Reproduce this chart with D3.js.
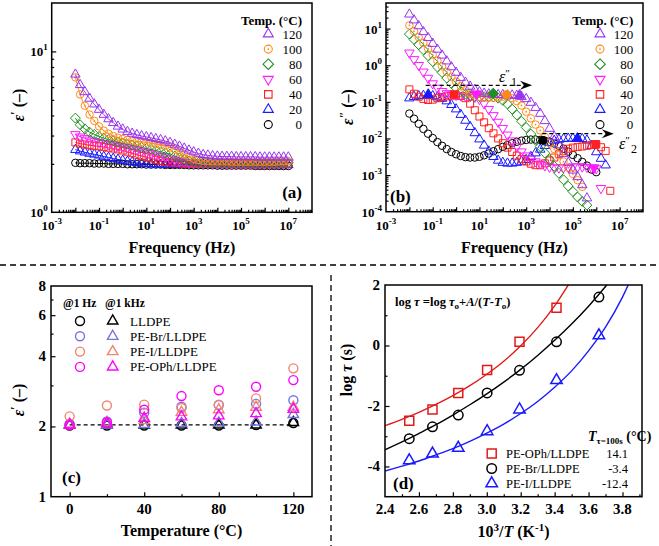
<!DOCTYPE html>
<html><head><meta charset="utf-8">
<script src="https://cdn.jsdelivr.net/npm/d3@7"></script>
<style>body{margin:0;background:#fff}svg{display:block}text{font-family:"Liberation Serif","Times New Roman",serif;fill:#000}</style>
</head><body><svg id="c" width="659" height="546"></svg>
<script>
// ---------------- DATA ----------------
// log10 frequency (Hz) of the measured points
const logF = [-2,-1.8,-1.6,-1.4,-1.2,-1,-0.8,-0.6,-0.4,-0.2,0,0.2,0.4,0.6,0.8,1,1.2,1.4,1.6,1.8,2,2.2,2.4,2.6,2.8,3,3.2,3.4,3.6,3.8,4,4.2,4.4,4.6,4.8,5,5.2,5.4,5.6,5.8,6,6.2,6.4,6.6,6.8,7];
const tempLabels = ["120","100","80","60","40","20","0"];

// panel (a): eps'
const epsA_120 = [7.2,6.2,5.6,5.1,4.7,4.35,4.05,3.8,3.6,3.42,3.28,3.17,3.09,3.03,2.98,2.94,2.9,2.86,2.82,2.77,2.71,2.64,2.57,2.5,2.43,2.37,2.32,2.28,2.26,2.24,2.23,2.22,2.22,2.22,2.21,2.21,2.21,2.21,2.21,2.2,2.2,2.2,2.2,2.2,2.2,2.2];
const epsA_100 = [6.9,5.4,4.6,4.05,3.7,3.42,3.22,3.08,2.98,2.91,2.86,2.82,2.79,2.76,2.74,2.72,2.69,2.66,2.62,2.58,2.53,2.46,2.38,2.29,2.21,2.15,2.11,2.09,2.08,2.07,2.07,2.07,2.07,2.06,2.06,2.06,2.06,2.06,2.06,2.06,2.06,2.06,2.06,2.07,2.07,2.08];
const epsA_80 = [3.85,3.5,3.3,3.15,3.05,2.96,2.89,2.83,2.78,2.73,2.69,2.65,2.61,2.57,2.53,2.49,2.46,2.42,2.38,2.34,2.3,2.24,2.18,2.13,2.09,2.06,2.04,2.03,2.02,2.02,2.02,2.02,2.02,2.02,2.01,2.01,2.01,2.01,2.01,2.01,2.01,2.01,2.01,2.02,2.02,2.03];
const epsA_60 = [3.05,2.95,2.88,2.82,2.77,2.73,2.69,2.65,2.62,2.58,2.55,2.52,2.48,2.45,2.41,2.37,2.33,2.28,2.23,2.19,2.15,2.11,2.08,2.06,2.04,2.03,2.02,2.02,2.01,2.01,2.01,2.01,2.01,2.0,2.0,2.0,2.0,2.0,2.0,2.0,2.0,2.0,2.0,2.01,2.01,2.02];
const epsA_40 = [2.72,2.67,2.64,2.61,2.59,2.57,2.55,2.52,2.49,2.46,2.42,2.38,2.33,2.28,2.24,2.2,2.16,2.12,2.09,2.06,2.04,2.03,2.02,2.01,2.01,2.0,2.0,2.0,2.0,2.0,2.0,2.0,2.0,1.99,1.99,1.99,1.99,1.99,1.99,1.99,1.99,1.99,1.99,2.0,2.0,2.01];
const epsA_20 = [2.45,2.4,2.36,2.32,2.29,2.26,2.22,2.19,2.16,2.13,2.1,2.07,2.05,2.03,2.01,2.0,1.99,1.99,1.98,1.98,1.98,1.98,1.98,1.98,1.98,1.98,1.98,1.98,1.98,1.98,1.98,1.98,1.98,1.98,1.98,1.98,1.98,1.98,1.98,1.98,1.98,1.98,1.98,1.97,1.97,1.97];
const epsA_0 = [2.03,2.02,2.02,2.02,2.01,2.01,2.01,2.0,2.0,2.0,2.0,1.99,1.99,1.99,1.99,1.98,1.98,1.98,1.98,1.97,1.97,1.97,1.97,1.97,1.96,1.96,1.96,1.96,1.96,1.96,1.95,1.95,1.95,1.95,1.95,1.95,1.95,1.95,1.94,1.94,1.94,1.94,1.94,1.94,1.94,1.94];

// panel (b): log10 eps''
const logE_120 = [1.39,1.23,1.07,0.91,0.75,0.59,0.43,0.27,0.11,-0.05,-0.2,-0.34,-0.47,-0.58,-0.67,-0.73,-0.77,-0.79,-0.8,-0.81,-0.81,-0.82,-0.82,-0.83,-0.86,-0.92,-1.02,-1.16,-1.32,-1.52,-1.73,-1.95,-2.18,-2.42,-2.66,-2.87,-3.05,-3.27,-3.63,null,null,null,null,null,null,null];
const logE_100 = [1.09,0.93,0.77,0.61,0.45,0.29,0.13,-0.03,-0.18,-0.32,-0.45,-0.57,-0.68,-0.76,-0.82,-0.86,-0.88,-0.89,-0.89,-0.88,-0.86,-0.86,-0.9,-0.98,-1.1,-1.27,-1.45,-1.62,-1.78,-1.95,-2.12,-2.29,-2.46,-2.63,-2.8,-2.97,-3.14,-3.32,null,null,null,null,null,null,null,null];
const logE_80 = [0.85,0.7,0.56,0.42,0.26,0.1,-0.05,-0.2,-0.35,-0.5,-0.62,-0.72,-0.79,-0.83,-0.85,-0.86,-0.86,-0.86,-0.87,-0.9,-0.96,-1.06,-1.2,-1.36,-1.53,-1.7,-1.88,-2.05,-2.22,-2.4,-2.58,-2.76,-2.95,-3.13,-3.3,-3.45,-3.6,-3.72,-3.82,null,null,null,null,null,null,null];
const logE_60 = [0.34,0.16,0.0,-0.18,-0.35,-0.5,-0.62,-0.71,-0.77,-0.8,-0.82,-0.83,-0.84,-0.85,-0.87,-0.93,-1.05,-1.2,-1.37,-1.55,-1.72,-1.9,-2.06,-2.22,-2.36,-2.47,-2.56,-2.63,-2.69,-2.74,-2.78,-2.8,-2.8,-2.79,-2.78,-2.77,-2.77,-2.77,-2.78,-2.8,-2.82,-3.36,null,null,null,null];
const logE_40 = [-0.66,-0.78,-0.86,-0.92,-0.95,-0.94,-0.9,-0.87,-0.85,-0.83,-0.82,-0.84,-0.9,-1.05,-1.23,-1.4,-1.56,-1.72,-1.86,-2.0,-2.13,-2.25,-2.37,-2.47,-2.56,-2.63,-2.69,-2.73,-2.73,-2.68,-2.6,-2.52,-2.43,-2.35,-2.28,-2.25,-2.23,-2.22,-2.2,-2.18,-2.16,-2.24,-2.34,-3.43,null,null];
const logE_20 = [-0.9,-0.86,-0.84,-0.83,-0.82,-0.84,-0.87,-0.91,-0.98,-1.08,-1.2,-1.35,-1.51,-1.68,-1.85,-2.02,-2.19,-2.35,-2.5,-2.6,-2.66,-2.68,-2.68,-2.66,-2.63,-2.58,-2.5,-2.4,-2.3,-2.2,-2.12,-2.06,-2.03,-2.01,-2.0,-2.0,-2.0,-2.01,-2.05,-2.2,-2.37,-2.55,-2.73,null,null,null];
const logE_0 = [-1.32,-1.46,-1.6,-1.74,-1.87,-1.99,-2.1,-2.2,-2.29,-2.37,-2.43,-2.48,-2.51,-2.52,-2.52,-2.5,-2.46,-2.41,-2.35,-2.29,-2.23,-2.18,-2.13,-2.09,-2.06,-2.04,-2.03,-2.03,-2.04,-2.06,-2.09,-2.14,-2.2,-2.28,-2.36,-2.45,-2.54,-2.64,-2.74,-2.85,-2.92,null,null,null,null,null];

// relaxation peaks (filled symbols)
const peak1Series = ["20","40","60","80","100","120"];
const peak1LogF = [-1.19,-0.08,0.86,1.59,2.16,2.72];
const peak1LogE = [-0.8,-0.8,-0.78,-0.77,-0.8,-0.82];
const peak2Series = ["0","20","60","40"];
const peak2LogF = [3.71,5.19,5.9,5.97];
const peak2LogE = [-2.05,-2.0,-2.8,-2.16];

// panel (c)
const tempsC = [0,20,40,60,80,100,120];
const materials = ["LLDPE","PE-Br/LLDPE","PE-I/LLDPE","PE-OPh/LLDPE"];
const epsC_1Hz = {
  "LLDPE":[2.02,2.02,2.02,2.02,2.02,2.03,2.07],
  "PE-Br/LLDPE":[2.05,2.1,2.29,2.43,2.47,2.5,2.59],
  "PE-I/LLDPE":[2.21,2.46,2.48,2.4,2.48,2.64,3.55],
  "PE-OPh/LLDPE":[2.03,2.08,2.36,2.7,2.86,2.96,3.16]
};
const epsC_1kHz = {
  "LLDPE":[2.03,2.03,2.03,2.03,2.03,2.03,2.08],
  "PE-Br/LLDPE":[2.03,2.03,2.04,2.06,2.07,2.09,2.25],
  "PE-I/LLDPE":[2.05,2.08,2.12,2.3,2.36,2.42,2.42],
  "PE-OPh/LLDPE":[2.03,2.06,2.17,2.2,2.22,2.27,2.37]
};
const lldpeRef = 2.03;

// panel (d)
const invT = [2.543,2.680,2.832,3.002,3.193,3.411,3.661];
const logTau_OPh = [-2.49,-2.12,-1.57,-0.81,0.12,1.25,null];
const logTau_Br = [-3.08,-2.69,-2.3,-1.57,-0.82,0.12,1.6];
const logTau_I = [-3.8,-3.58,-3.39,-2.84,-2.12,-1.15,0.33];
const fitX = [2.4,2.5,2.6,2.7,2.8,2.9,3.0,3.1,3.2,3.3,3.4,3.5,3.6,3.7,3.8,3.9];
const fit_OPh = [-2.65,-2.44,-2.21,-1.95,-1.66,-1.33,-0.95,-0.52,-0.01,0.59,1.31,2.18,null,null,null,null];
const fit_Br = [-3.45,-3.19,-2.91,-2.62,-2.3,-1.96,-1.6,-1.21,-0.79,-0.33,0.17,0.71,1.3,1.95,2.66,null];
const fit_I = [-4.15,-3.99,-3.82,-3.62,-3.41,-3.17,-2.9,-2.6,-2.25,-1.85,-1.38,-0.84,-0.18,0.61,1.6,2.88];
const dLabels = ["PE-OPh/LLDPE","PE-Br/LLDPE","PE-I/LLDPE"];
const dT100 = ["14.1","-3.4","-12.4"];

// ---------------- STYLE ----------------
const svg = d3.select("#c");
const style = {
  "120":{c:"#9933ee",s:"up"},
  "100":{c:"#ff8c1a",s:"circle",dot:true},
  "80":{c:"#1f8f1f",s:"diamond"},
  "60":{c:"#ff1aff",s:"down"},
  "40":{c:"#ff2020",s:"square"},
  "20":{c:"#1a1aff",s:"up"},
  "0":{c:"#000000",s:"circle"}
};
const msize = {up:9.5,down:9.5,circle:7.5,square:7,diamond:7.5};
const epsA = {"120":epsA_120,"100":epsA_100,"80":epsA_80,"60":epsA_60,"40":epsA_40,"20":epsA_20,"0":epsA_0};
const logE = {"120":logE_120,"100":logE_100,"80":logE_80,"60":logE_60,"40":logE_40,"20":logE_20,"0":logE_0};
const drawOrder = ["0","20","40","60","80","100","120"];

function markerPath(shape,s){
  const h=s*0.866;
  switch(shape){
    case 'up': return `M0,${-h*2/3}L${s/2},${h/3}L${-s/2},${h/3}Z`;
    case 'down': return `M0,${h*2/3}L${s/2},${-h/3}L${-s/2},${-h/3}Z`;
    case 'square': return `M${-s/2},${-s/2}h${s}v${s}h${-s}Z`;
    case 'diamond': {const d=s*0.66; return `M0,${-d}L${d},0L0,${d}L${-d},0Z`;}
    default: {const r=s/2; return `M${r},0A${r},${r} 0 1,1 ${-r},0A${r},${r} 0 1,1 ${r},0Z`;}
  }
}
function marker(g,shape,x,y,s,color,filled,sw,dot){
  g.append('path').attr('d',markerPath(shape,s)).attr('transform',`translate(${x},${y})`)
    .attr('fill',filled?color:'none').attr('stroke',color).attr('stroke-width',sw);
  if(dot) g.append('circle').attr('cx',x).attr('cy',y).attr('r',0.9).attr('fill',color);
}
function frame(x0,y0,x1,y1){
  svg.append('rect').attr('x',x0).attr('y',y0).attr('width',x1-x0).attr('height',y1-y0)
    .attr('fill','none').attr('stroke','#000').attr('stroke-width',1.5);
}
function ticks(axisFn,scale,vals,len,tx,ty){
  const g=svg.append('g').attr('transform',`translate(${tx},${ty})`)
    .call(axisFn(scale).tickValues(vals).tickSizeInner(-len).tickSizeOuter(0).tickFormat(''));
  g.select('.domain').remove();
  g.selectAll('line').attr('stroke','#000').attr('stroke-width',1.2);
}
function logMinors(d0,d1){const out=[];for(let e=-6;e<=8;e++)for(let k=2;k<=9;k++){const v=k*10**e;if(v>d0&&v<d1)out.push(v);}return out;}
function powLabel(x,y,exp,anchor){
  const t=svg.append('text').attr('x',x).attr('y',y).attr('text-anchor',anchor)
    .attr('font-size',13).attr('font-weight','bold');
  t.append('tspan').text('10');
  t.append('tspan').attr('dy',-6).attr('font-size',9).text(exp);
}
function plainLabel(x,y,txt,anchor,fs){
  svg.append('text').attr('x',x).attr('y',y).attr('text-anchor',anchor)
    .attr('font-size',fs||15).attr('font-weight','bold').text(txt);
}
function epsTitle(x,yc,primes){
  const t=svg.append('text').attr('transform',`translate(${x},${yc}) rotate(-90)`)
    .attr('text-anchor','middle').attr('font-size',16).attr('font-weight','bold');
  t.append('tspan').attr('font-style','italic').text('ε');
  t.append('tspan').attr('dy',-5).attr('font-size',12).text(primes);
  t.append('tspan').attr('dy',5).text(' (–)');
}
function panelLetter(x,y,txt,anchor){
  svg.append('text').attr('x',x).attr('y',y).attr('text-anchor',anchor||'start')
    .attr('font-size',17).attr('font-weight','bold').text(txt);
}

// ---------------- PANEL (a) ----------------
const A={l:51.7,r:312,t:3,b:212.3};
const xA=d3.scaleLog().domain([1e-3,1e8]).range([A.l,A.r]);
const yA=d3.scaleLog().domain([1,20]).range([A.b,A.t]);
const decX=d3.range(-3,9).map(e=>10**e);
ticks(d3.axisBottom,xA,decX.filter(v=>v>1e-3&&v<1e8),4.5,0,A.b);
ticks(d3.axisBottom,xA,logMinors(1e-3,1e8),2.5,0,A.b);
ticks(d3.axisLeft,yA,[10],4.5,A.l,0);
ticks(d3.axisLeft,yA,logMinors(1,20),2.5,A.l,0);
[-3,-1,1,3,5,7].forEach(e=>powLabel(xA(10**e),A.b+18,String(e),'middle'));
[0,1].forEach(e=>powLabel(A.l-4,yA(10**e)+5,String(e),'end'));
const gA=svg.append('g');
drawOrder.forEach(k=>{
  const pts=logF.map((lf,i)=>[lf,epsA[k][i]]);
  gA.append('path').datum(pts)
    .attr('d',d3.line().x(d=>xA(10**d[0])).y(d=>yA(d[1])).curve(d3.curveMonotoneX))
    .attr('fill','none').attr('stroke',style[k].c).attr('stroke-width',1);
});
drawOrder.forEach(k=>{
  const st=style[k];
  logF.forEach((lf,i)=>marker(gA,st.s,xA(10**lf),yA(epsA[k][i]),msize[st.s],st.c,false,1,st.dot));
});
frame(A.l,A.t,A.r,A.b);
svg.append('text').attr('x',(A.l+A.r)/2).attr('y',253).attr('text-anchor','middle')
  .attr('font-size',16).attr('font-weight','bold').text('Frequency (Hz)');
epsTitle(23.5,105,'′');
panelLetter(302,198,'(a)','end');

function tempLegend(xm,xr){
  svg.append('text').attr('x',xr).attr('y',25).attr('text-anchor','end')
    .attr('font-size',13).attr('font-weight','bold').text('Temp. (°C)');
  tempLabels.forEach((t,i)=>{
    const y=34+i*15.1, st=style[t];
    marker(svg,st.s,xm,y,msize[st.s]+0.5,st.c,false,1.1,st.dot);
    svg.append('text').attr('x',xr).attr('y',y+4.5).attr('text-anchor','end')
      .attr('font-size',13).text(t);
  });
}
tempLegend(268.3,302);

// ---------------- PANEL (b) ----------------
const B={l:386,r:643,t:3,b:211.7};
const xB=d3.scaleLog().domain([1e-3,1e8]).range([B.l,B.r]);
const yB=d3.scaleLog().domain([1e-4,50]).range([B.b,B.t]);
ticks(d3.axisBottom,xB,decX.filter(v=>v>1e-3&&v<1e8),4.5,0,B.b);
ticks(d3.axisBottom,xB,logMinors(1e-3,1e8),2.5,0,B.b);
ticks(d3.axisLeft,yB,[1e-3,1e-2,1e-1,1,10],4.5,B.l,0);
ticks(d3.axisLeft,yB,logMinors(1e-4,50),2.5,B.l,0);
[-3,-1,1,3,5,7].forEach(e=>powLabel(xB(10**e),B.b+18,String(e),'middle'));
[-4,-3,-2,-1,0,1].forEach(e=>powLabel(B.l-4,yB(10**e)+5,String(e),'end'));
const gB=svg.append('g');
drawOrder.forEach(k=>{
  const st=style[k];
  logF.forEach((lf,i)=>{const v=logE[k][i]; if(v!==null) marker(gB,st.s,xB(10**lf),yB(10**v),msize[st.s],st.c,false,1,st.dot);});
});
peak1Series.forEach((k,i)=>{const st=style[k]; marker(gB,st.s,xB(10**peak1LogF[i]),yB(10**peak1LogE[i]),msize[st.s]+0.5,st.c,true,1);});
peak2Series.forEach((k,i)=>{const st=style[k]; marker(gB,st.s,xB(10**peak2LogF[i]),yB(10**peak2LogE[i]),msize[st.s]+0.5,st.c,true,1);});
function dashArrow(lf0,lf1,le){
  const x0=xB(10**lf0), x1=xB(10**lf1), y=yB(10**le);
  svg.append('line').attr('x1',x0).attr('x2',x1-8).attr('y1',y).attr('y2',y)
    .attr('stroke','#000').attr('stroke-width',1.3).attr('stroke-dasharray','4,3');
  svg.append('path').attr('d',`M${x1},${y}L${x1-12},${y-4.5}L${x1-8},${y}L${x1-12},${y+4.5}Z`).attr('fill','#000');
}
dashArrow(-1.3,3.25,-0.55);
dashArrow(3.69,6.75,-1.87);
function epsLabel(x,y,sub){
  const t=svg.append('text').attr('x',x).attr('y',y).attr('font-size',16);
  t.append('tspan').attr('font-style','italic').text('ε');
  t.append('tspan').attr('dy',-5).attr('font-size',11).text('″');
  t.append('tspan').attr('dy',9).attr('dx',1).attr('font-size',12).text(sub);
}
epsLabel(499,82,'1');
epsLabel(619,149,'2');
frame(B.l,B.t,B.r,B.b);
svg.append('text').attr('x',(B.l+B.r)/2).attr('y',253).attr('text-anchor','middle')
  .attr('font-size',16).attr('font-weight','bold').text('Frequency (Hz)');
epsTitle(353,107,'″');
panelLetter(390,202,'(b)');
tempLegend(600,633.3);

// ---------------- separators ----------------
svg.append('line').attr('x1',0).attr('x2',659).attr('y1',265).attr('y2',265)
  .attr('stroke','#000').attr('stroke-width',1.3).attr('stroke-dasharray','6,4');
svg.append('line').attr('x1',331).attr('x2',331).attr('y1',275).attr('y2',546)
  .attr('stroke','#000').attr('stroke-width',1.3).attr('stroke-dasharray','6,4');

// ---------------- PANEL (c) ----------------
const C={l:51,r:312,t:286,b:496.7};
const xC=d3.scaleLinear().domain([-10,130]).range([C.l,C.r]);
const yC=d3.scaleLog().domain([1,8]).range([C.b,C.t]);
ticks(d3.axisBottom,xC,[0,40,80,120],4.5,0,C.b);
ticks(d3.axisBottom,xC,[20,60,100],2.5,0,C.b);
ticks(d3.axisLeft,yC,[2,4,6],4.5,C.l,0);
ticks(d3.axisLeft,yC,[3,5,7],2.5,C.l,0);
[0,40,80,120].forEach(v=>plainLabel(xC(v),C.b+17,String(v),'middle'));
[1,2,4,6,8].forEach(v=>plainLabel(C.l-5,yC(v)+5,String(v),'end'));
const colC={"LLDPE":"#000000","PE-Br/LLDPE":"#7676e0","PE-I/LLDPE":"#f08474","PE-OPh/LLDPE":"#ff00ff"};
svg.append('line').attr('x1',xC(0)).attr('x2',xC(120)).attr('y1',yC(lldpeRef)).attr('y2',yC(lldpeRef))
  .attr('stroke','#000').attr('stroke-width',1.3).attr('stroke-dasharray','4,3');
const gC=svg.append('g');
materials.forEach(m=>{
  tempsC.forEach((t,i)=>{
    marker(gC,'circle',xC(t),yC(epsC_1Hz[m][i]),9,colC[m],false,1.4);
    marker(gC,'up',xC(t),yC(epsC_1kHz[m][i]),10.5,colC[m],false,1.4);
  });
});
frame(C.l,C.t,C.r,C.b);
svg.append('text').attr('x',63).attr('y',307).attr('font-size',11.5).attr('font-weight','bold').text('@1 Hz');
svg.append('text').attr('x',105).attr('y',307).attr('font-size',11.5).attr('font-weight','bold').text('@1 kHz');
materials.forEach((m,i)=>{
  const y=321+i*15.3;
  marker(svg,'circle',80,y,9,colC[m],false,1.4);
  marker(svg,'up',112.7,y,10.5,colC[m],false,1.4);
  svg.append('text').attr('x',130).attr('y',y+4.5).attr('font-size',13).text(m);
});
svg.append('text').attr('x',(C.l+C.r)/2).attr('y',536).attr('text-anchor','middle')
  .attr('font-size',16).attr('font-weight','bold').text('Temperature (°C)');
epsTitle(23.5,400,'′');
panelLetter(62,483,'(c)');

// ---------------- PANEL (d) ----------------
const D={l:385,r:642,t:285,b:496.7};
const xD=d3.scaleLinear().domain([2.4,3.915]).range([D.l,D.r]);
const yD=d3.scaleLinear().domain([-5,2]).range([D.b,D.t]);
ticks(d3.axisBottom,xD,[2.6,2.8,3.0,3.2,3.4,3.6,3.8],4.5,0,D.b);
ticks(d3.axisBottom,xD,[2.5,2.7,2.9,3.1,3.3,3.5,3.7,3.9],2.5,0,D.b);
ticks(d3.axisLeft,yD,[-4,-2,0],4.5,D.l,0);
ticks(d3.axisLeft,yD,[-3,-1,1],2.5,D.l,0);
[2.4,2.6,2.8,3.0,3.2,3.4,3.6,3.8].forEach(v=>plainLabel(xD(v),D.b+17,v.toFixed(1),'middle'));
[-4,-2,0,2].forEach(v=>plainLabel(D.l-5,yD(v)+5,String(v),'end'));
svg.append('clipPath').attr('id','clipD').append('rect')
  .attr('x',D.l).attr('y',D.t).attr('width',D.r-D.l).attr('height',D.b-D.t);
const gD=svg.append('g').attr('clip-path','url(#clipD)');
const dSeries=[
  {fit:fit_OPh,pts:logTau_OPh,c:"#e01a1a",s:"square",sz:9},
  {fit:fit_Br,pts:logTau_Br,c:"#000000",s:"circle",sz:9.5},
  {fit:fit_I,pts:logTau_I,c:"#1a1aff",s:"up",sz:11.5}
];
dSeries.forEach(ds=>{
  const pts=fitX.map((x,i)=>[x,ds.fit[i]]);
  gD.append('path').datum(pts)
    .attr('d',d3.line().defined(d=>d[1]!==null).x(d=>xD(d[0])).y(d=>yD(d[1])).curve(d3.curveCatmullRom))
    .attr('fill','none').attr('stroke',ds.c).attr('stroke-width',1.4);
});
dSeries.forEach(ds=>{
  invT.forEach((x,i)=>{if(ds.pts[i]!==null) marker(svg,ds.s,xD(x),yD(ds.pts[i]),ds.sz,ds.c,false,1.5);});
});
frame(D.l,D.t,D.r,D.b);
// formula
(function(){
  const t=svg.append('text').attr('x',395).attr('y',306).attr('font-size',12.5).attr('font-weight','bold');
  const add=(s,o)=>{const sp=t.append('tspan').text(s); if(o){Object.entries(o).forEach(([k,v])=>sp.attr(k,v));} return sp;};
  add('log ');add('τ',{'font-style':'italic'});add(' =log ');add('τ',{'font-style':'italic'});
  add('o',{'font-size':9,dy:3});add('+',{dy:-3});add('A',{'font-style':'italic'});add('/(');
  add('T',{'font-style':'italic'});add('-');add('T',{'font-style':'italic'});add('o',{'font-size':9,dy:3});add(')',{dy:-3});
})();
(function(){
  const t=svg.append('text').attr('x',588).attr('y',441).attr('font-size',14).attr('font-weight','bold');
  t.append('tspan').attr('font-style','italic').text('T');
  t.append('tspan').attr('font-size',9).attr('dy',3).text('τ=100s');
  t.append('tspan').attr('dy',-3).text(' (°C)');
})();
dLabels.forEach((lab,i)=>{
  const y=453.5+i*15, ds=dSeries[i];
  marker(svg,ds.s,491.7,y,ds.sz,ds.c,false,1.5);
  svg.append('text').attr('x',506).attr('y',y+4.5).attr('font-size',12.5).text(lab);
  svg.append('text').attr('x',628).attr('y',y+4.5).attr('text-anchor','end').attr('font-size',12.5).text(dT100[i]);
});
(function(){
  const t=svg.append('text').attr('x',(D.l+D.r)/2).attr('y',537).attr('text-anchor','middle')
    .attr('font-size',16).attr('font-weight','bold');
  t.append('tspan').text('10');
  t.append('tspan').attr('dy',-6).attr('font-size',11).text('3');
  t.append('tspan').attr('dy',6).text('/');
  t.append('tspan').attr('font-style','italic').text('T');
  t.append('tspan').text(' (K');
  t.append('tspan').attr('dy',-6).attr('font-size',11).text('-1');
  t.append('tspan').attr('dy',6).text(')');
})();
svg.append('text').attr('transform',`translate(352,370) rotate(-90)`).attr('text-anchor','middle')
  .attr('font-size',16).attr('font-weight','bold')
  .call(t=>{t.append('tspan').text('log ');t.append('tspan').attr('font-style','italic').text('τ');t.append('tspan').text(' (s)');});
panelLetter(393,489,'(d)');
</script>
</body></html>
